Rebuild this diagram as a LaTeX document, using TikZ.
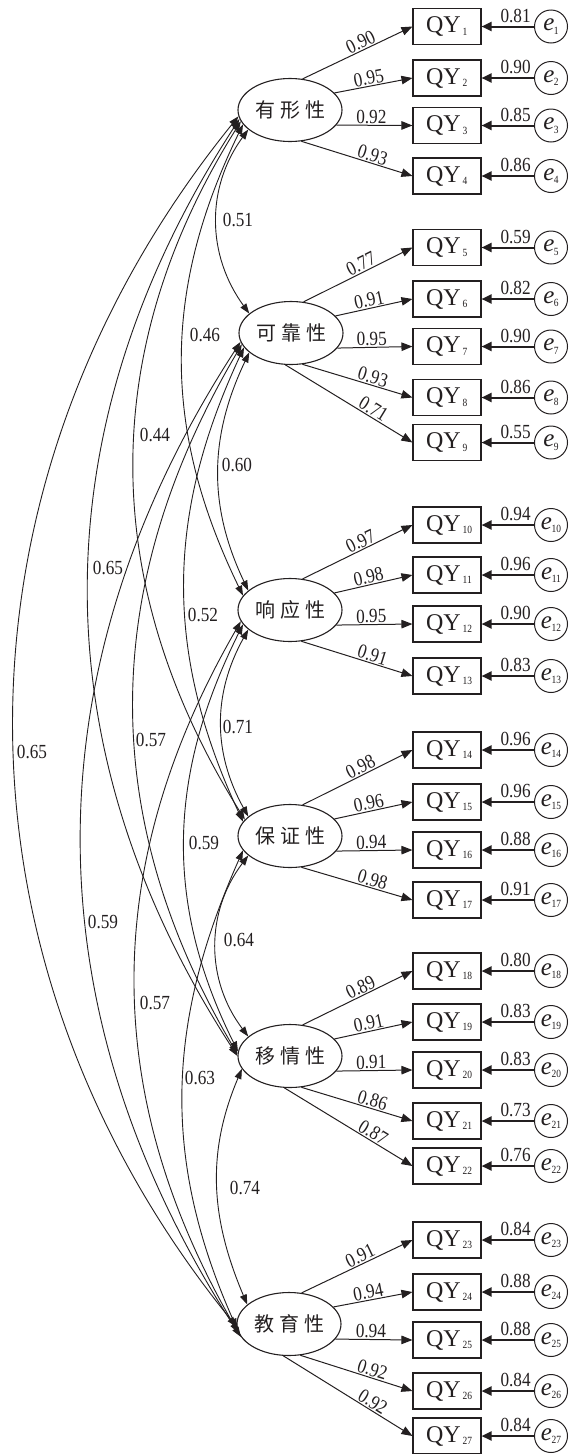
\documentclass[tikz,border=0pt]{standalone}
\usepackage{fontspec}
\setmainfont{Liberation Serif}
\newfontfamily\cjk{Noto Sans CJK SC}
\newfontfamily\numfont[FakeStretch=0.86]{Liberation Serif}
\usetikzlibrary{arrows.meta,shapes.geometric}
\definecolor{ink}{HTML}{231F20}

% indicator text: QY with a small index
\newcommand{\qybox}[1]{\makebox[42pt][l]{\fontsize{24}{24}\selectfont QY\hspace{2pt}\raisebox{-2.5pt}{\numfont\fontsize{11}{11}\selectfont #1}}}
% error term text: italic e with a small index
\newcommand{\errlab}[1]{{\fontsize{25}{25}\selectfont\itshape e}\hspace{-0.5pt}\raisebox{-3.5pt}{\numfont\fontsize{11}{11}\selectfont #1}}

\tikzset{
  latent/.style={ellipse, draw, line width=1.1pt, minimum width=104pt, minimum height=63pt,
    inner sep=0pt, font=\cjk\fontsize{20}{20}\selectfont},
  item/.style={rectangle, draw, line width=1.1pt, minimum width=68pt, minimum height=36pt, inner sep=0pt},
  err/.style={circle, draw, line width=1pt, minimum size=33pt, inner sep=0pt},
  load/.style={line width=1pt, -{Triangle[length=11pt,width=8.5pt]}},
  errarrow/.style={line width=2pt, -{Triangle[length=10pt,width=9pt]}},
  cov/.style={line width=0.9pt, {Triangle[length=10pt,width=7pt]}-{Triangle[length=10pt,width=7pt]}},
  coef/.style={font=\numfont\fontsize{20}{20}\selectfont, inner sep=1pt},
  ecoef/.style={coef, above, inner sep=3pt, pos=0.35},
}

\begin{document}
\begin{tikzpicture}[x=1pt, y=1pt, color=ink]
\useasboundingbox (0,0) rectangle (573,-1454);

% latent factors
\node[latent] (L1) at (290,-110)  {有\hspace{5pt}形\hspace{5pt}性};
\node[latent] (L2) at (291,-333)  {可\hspace{5pt}靠\hspace{5pt}性};
\node[latent] (L3) at (290,-610)  {响\hspace{5pt}应\hspace{5pt}性};
\node[latent] (L4) at (290,-836)  {保\hspace{5pt}证\hspace{5pt}性};
\node[latent] (L5) at (290,-1056) {移\hspace{5pt}情\hspace{5pt}性};
\node[latent] (L6) at (289,-1324) {教\hspace{5pt}育\hspace{5pt}性};

% indicators and their error terms
\foreach \i/\y in {1/26.5, 2/78, 3/125.5, 4/176,
                   5/247.5, 6/299, 7/346.5, 8/397.5, 9/442.5,
                   10/525, 11/575, 12/624, 13/676,
                   14/750, 15/802, 16/850, 17/900,
                   18/971, 19/1022, 20/1070, 21/1121, 22/1166,
                   23/1240, 24/1292, 25/1340, 26/1391, 27/1436} {
  \node[item] (Q\i) at (447,-\y) {\qybox{\i}};
  \node[err]  (E\i) at (551,-\y) {\errlab{\i}};
}

% factor loadings
\foreach \f/\q/\a/\p/\v in {
    1/1/68/0.56/0.90, 1/2/21/0.46/0.95, 1/3/-18/0.46/0.92, 1/4/-70/0.62/0.93,
    2/5/68/0.56/0.77, 2/6/21/0.46/0.91, 2/7/-18/0.46/0.95, 2/8/-70/0.62/0.93, 2/9/-100/0.66/0.71,
    3/10/68/0.56/0.97, 3/11/21/0.46/0.98, 3/12/-18/0.46/0.95, 3/13/-70/0.62/0.91,
    4/14/68/0.56/0.98, 4/15/21/0.46/0.96, 4/16/-18/0.46/0.94, 4/17/-70/0.62/0.98,
    5/18/68/0.56/0.89, 5/19/21/0.46/0.91, 5/20/-18/0.46/0.91, 5/21/-70/0.62/0.86, 5/22/-100/0.66/0.87,
    6/23/68/0.56/0.91, 6/24/21/0.46/0.94, 6/25/-18/0.46/0.94, 6/26/-70/0.62/0.92, 6/27/-100/0.66/0.92} {
  \draw[load] (L\f.\a) -- node[coef, sloped, above, pos=\p] (lam\q) {\v} (Q\q.west);
}

% error paths
\foreach \q/\v in {1/0.81, 2/0.90, 3/0.85, 4/0.86, 5/0.59, 6/0.82, 7/0.90, 8/0.86, 9/0.55,
                   10/0.94, 11/0.96, 12/0.90, 13/0.83, 14/0.96, 15/0.96, 16/0.88, 17/0.91,
                   18/0.80, 19/0.83, 20/0.83, 21/0.73, 22/0.76,
                   23/0.84, 24/0.88, 25/0.88, 26/0.84, 27/0.84} {
  \draw[errarrow] (E\q.west) -- node[ecoef] (del\q) {\v} (Q\q.east);
}

% correlations between factors (arcs bowing to the left)
\draw[cov] (L1.205) .. controls +(-42.5,-58.5)  and +(-42.5,58.5)  .. (L2.155);
\draw[cov] (L2.205) .. controls +(-40.2,-84.3)  and +(-40.2,84.3)  .. (L3.155);
\draw[cov] (L3.205) .. controls +(-35.6,-64.2)  and +(-35.6,64.2)  .. (L4.155);
\draw[cov] (L4.205) .. controls +(-42.8,-56.8)  and +(-42.8,56.8)  .. (L5.155);
\draw[cov] (L5.195) .. controls +(-36.1,-85.1)  and +(-36.1,85.1)  .. (L6.155);
\draw[cov] (L1.197) .. controls +(-80.9,-166)   and +(-80.9,166)   .. (L3.163);
\draw[cov] (L2.197) .. controls +(-78.6,-168.4) and +(-78.6,168.4) .. (L4.163);
\draw[cov] (L3.197) .. controls +(-74.6,-149.6) and +(-74.6,149.6) .. (L5.175);
\draw[cov] (L4.197) .. controls +(-76.1,-171)   and +(-76.1,171)   .. (L6.185);
\draw[cov] (L1.193) .. controls +(-145,-232)    and +(-145,232)    .. (L4.160);
\draw[cov] (L2.193) .. controls +(-141.2,-239.6) and +(-141.2,239.6) .. (L5.178);
\draw[cov] (L3.193) .. controls +(-139.3,-241.3) and +(-139.3,241.3) .. (L6.190);
\draw[cov] (L1.190) .. controls +(-199.9,-307.7) and +(-199.9,307.7) .. (L5.180);
\draw[cov] (L2.190) .. controls +(-212.3,-326.8) and +(-212.3,326.8) .. (L6.195);
\draw[cov] (L1.187) .. controls +(-298,-368)    and +(-298,368)    .. (L6.183);

% correlation values
\node[coef] (r12) at (238,-220)  {0.51};
\node[coef] (r23) at (237,-465)  {0.60};
\node[coef] (r34) at (238,-727)  {0.71};
\node[coef] (r45) at (239,-940)  {0.64};
\node[coef] (r56) at (245,-1188) {0.74};
\node[coef] (r13) at (205,-335)  {0.46};
\node[coef] (r24) at (203,-615)  {0.52};
\node[coef] (r35) at (204,-843)  {0.59};
\node[coef] (r46) at (200,-1078) {0.63};
\node[coef] (r14) at (155,-435)  {0.44};
\node[coef] (r25) at (151,-740)  {0.57};
\node[coef] (r36) at (155,-1003) {0.57};
\node[coef] (r15) at (108,-568)  {0.65};
\node[coef] (r26) at (103,-922)  {0.59};
\node[coef] (r16) at (32,-752)   {0.65};
\end{tikzpicture}
\end{document}
